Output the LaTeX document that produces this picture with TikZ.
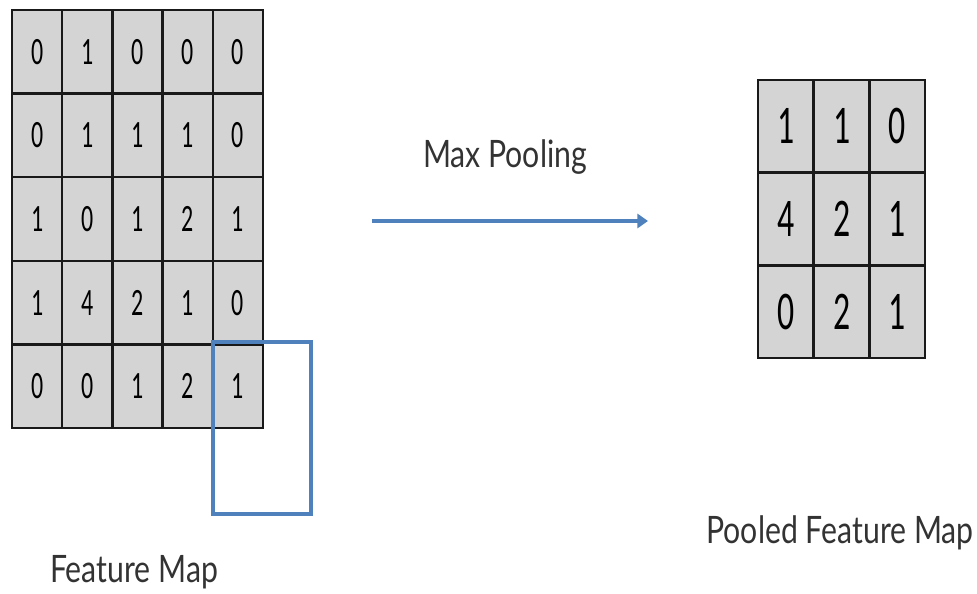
\documentclass[tikz,border=0pt]{standalone}
\usepackage{fontspec}
\usepackage{tikz}
\usetikzlibrary{arrows.meta}
\newfontfamily\cellfont[FakeStretch=0.62]{Carlito}
\newfontfamily\labelfont[FakeStretch=0.8]{Lato}
\definecolor{poolblue}{HTML}{4F81BD}
\definecolor{cellgray}{HTML}{D4D4D4}
\begin{document}
\begin{tikzpicture}[x=0.02cm,y=-0.02cm]
      \useasboundingbox (0,0) rectangle (977,594);
      \tikzstyle{every path}=[line width=1.4pt]
      
      \edef\cellw{1.004cm}
      \edef\cellh{1.672cm}
      \tikzstyle{fmcell}=[draw=black!90,fill=cellgray,minimum width=\cellw,minimum height=\cellh,inner sep=0pt,font=\cellfont\fontsize{22}{22}\selectfont]
      \tikzstyle{pmcell}=[draw=black!90,fill=cellgray,minimum width=1.114cm,minimum height=1.854cm,inner sep=0pt,font=\cellfont\fontsize{31}{31}\selectfont]
      \tikzstyle{caption}=[anchor=base,inner sep=0pt,text=black!80,font=\labelfont\fontsize{21.5}{21.5}\selectfont]
      \tikzstyle{window}=[draw=poolblue,line width=1.8pt,minimum width=1.96cm,minimum height=3.44cm,inner sep=0pt]
      
      % feature map 5x5
      \foreach \row [count=\r] in {{0,1,0,0,0},{0,1,1,1,0},{1,0,1,2,1},{1,4,2,1,0},{0,0,1,2,1}}
        \foreach \v [count=\c] in \row
          \node [fmcell] (f-\r-\c) at ({12+50.2*(\c-0.5)},{10+83.6*(\r-0.5)}) {\v};
      
      % pooled map 3x3
      \foreach \row [count=\r] in {{1,1,0},{4,2,1},{0,2,1}}
        \foreach \v [count=\c] in \row
          \node [pmcell] (p-\r-\c) at ({758+55.7*(\c-0.5)},{80+92.7*(\r-0.5)}) {\v};
      
      \node [window] (win) at (262,428) {};
      
      \coordinate (pool-from) at (372,221);
      \coordinate (pool-to) at (648,221);
      \draw [poolblue,line width=2.5pt,-{Triangle[length=6pt,width=8pt]}] (pool-from) -- (pool-to);
      
      \node [caption] (pool-label) at (505,168) {Max Pooling};
      \node [caption] (fm-label) at (134,582) {Feature Map};
      \node [caption] (pm-label) at (840,543) {Pooled Feature Map};
    \end{tikzpicture}
\end{document}
